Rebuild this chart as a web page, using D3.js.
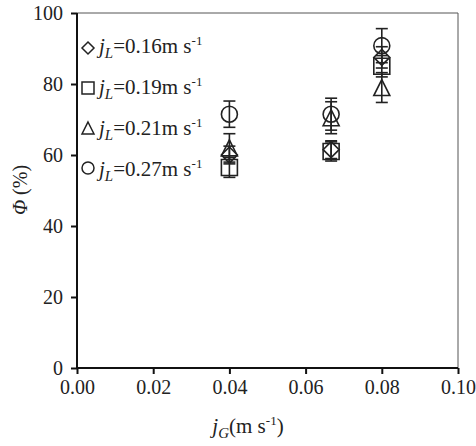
<!DOCTYPE html>
<html>
<head>
<meta charset="utf-8">
<script src="https://cdn.jsdelivr.net/npm/d3@7"></script>
<style>
  body { margin: 0; background: #fff; }
  svg { font-family: "Liberation Serif", "Times New Roman", serif; }
</style>
</head>
<body>
<svg id="chart" width="476" height="446"></svg>
<script>
// superficial gas velocity (m/s)
const jG = [0.04, 0.0667, 0.08];

// liquid velocities for the legend
const jL = ['0.16', '0.19', '0.21', '0.27'];
const shapes = ['diamond', 'square', 'triangle', 'circle'];

// Phi (%) and error bar half widths per series
const phi016 = [60, 61.5, 87.5];
const err016 = [2.5, 2.5, 3];
const phi019 = [56.5, 61, 85];
const err019 = [2.8, 2.7, 3];
const phi021 = [62, 70.5, 79];
const err021 = [4, 4.5, 4.2];
const phi027 = [71.5, 71.5, 90.8];
const err027 = [3.7, 4.5, 4.8];

const xTicks = [0, 0.02, 0.04, 0.06, 0.08, 0.10];
const yTicks = [0, 20, 40, 60, 80, 100];

const series = [
  { name: jL[0], shape: shapes[0], y: phi016, e: err016 },
  { name: jL[1], shape: shapes[1], y: phi019, e: err019 },
  { name: jL[2], shape: shapes[2], y: phi021, e: err021 },
  { name: jL[3], shape: shapes[3], y: phi027, e: err027 }
];

const svg = d3.select('#chart');
const mLeft = 77, mRight = 458, mTop = 13, mBottom = 368;

const x = d3.scaleLinear().domain([0, 0.1]).range([mLeft, mRight]);
const y = d3.scaleLinear().domain([0, 100]).range([mBottom, mTop]);

// marker outlines, s = half size
function markerPath(shape, s) {
  if (shape === 'diamond') return `M0,${-s}L${s},0L0,${s}L${-s},0Z`;
  if (shape === 'square') return `M${-s},${-s}H${s}V${s}H${-s}Z`;
  return `M0,${-s}L${s},${s}H${-s}Z`; // triangle
}

function drawMarker(g, shape, s) {
  if (shape === 'circle') {
    g.append('circle').attr('r', s);
  } else {
    g.append('path').attr('d', markerPath(shape, s));
  }
}

// frame (top / right thin)
svg.append('line').attr('x1', mLeft).attr('x2', mRight).attr('y1', mTop).attr('y2', mTop)
  .attr('stroke', '#555').attr('stroke-width', 1);
svg.append('line').attr('x1', mRight).attr('x2', mRight).attr('y1', mTop).attr('y2', mBottom)
  .attr('stroke', '#555').attr('stroke-width', 1);

// axes
const xAxis = d3.axisBottom(x).tickValues(xTicks).tickFormat(d3.format('.2f')).tickSize(6).tickPadding(6);
const yAxis = d3.axisLeft(y).tickValues(yTicks).tickSize(6).tickPadding(8);

const gx = svg.append('g').attr('transform', `translate(0,${mBottom})`).call(xAxis);
const gy = svg.append('g').attr('transform', `translate(${mLeft},0)`).call(yAxis);

[gx, gy].forEach(g => {
  g.select('.domain').attr('stroke', '#111').attr('stroke-width', 2);
  g.selectAll('.tick line').attr('stroke', '#111').attr('stroke-width', 2);
  g.selectAll('.tick text').attr('fill', '#222').style('font-size', '20px')
    .style('font-family', '"Liberation Serif", serif');
});
gx.select('.domain').attr('d', `M${mLeft},0H${mRight}`);
gy.select('.domain').attr('d', `M0,${mBottom}V${mTop}`);

// data points with error bars
const pts = svg.append('g').attr('fill', 'none').attr('stroke', '#222').attr('stroke-width', 1.6);
series.forEach(sr => {
  jG.forEach((xv, i) => {
    const cx = x(xv), v = sr.y[i], e = sr.e[i];
    const eb = pts.append('g');
    eb.append('line').attr('x1', cx).attr('x2', cx).attr('y1', y(v + e)).attr('y2', y(v - e));
    [v + e, v - e].forEach(t => {
      eb.append('line').attr('x1', cx - 6).attr('x2', cx + 6).attr('y1', y(t)).attr('y2', y(t));
    });
    const m = pts.append('g').attr('transform', `translate(${cx},${y(v)})`);
    drawMarker(m, sr.shape, 8);
  });
});

// legend
const leg = svg.append('g');
series.forEach((sr, i) => {
  const m = leg.append('g').attr('transform', `translate(88,${48 + i * 40})`)
    .attr('fill', 'none').attr('stroke', '#222').attr('stroke-width', 1.5);
  drawMarker(m, sr.shape, 6);
  const t = leg.append('text').attr('x', 99).attr('y', 53 + i * 41)
    .attr('fill', '#222').style('font-size', '21px');
  t.append('tspan').style('font-style', 'italic').text('j');
  t.append('tspan').style('font-style', 'italic').style('font-size', '15px').attr('dy', 5).text('L');
  t.append('tspan').attr('dy', -5).text(`=${sr.name}m s`);
  t.append('tspan').style('font-size', '13px').attr('dy', -8).text('-1');
});

// axis titles
const xt = svg.append('text').attr('x', 248).attr('y', 433).attr('text-anchor', 'middle')
  .attr('fill', '#222').style('font-size', '21px');
xt.append('tspan').style('font-style', 'italic').text('j');
xt.append('tspan').style('font-style', 'italic').style('font-size', '15px').attr('dy', 5).text('G');
xt.append('tspan').attr('dy', -5).text('(m s');
xt.append('tspan').style('font-size', '13px').attr('dy', -8).text('-1');
xt.append('tspan').attr('dy', 8).text(')');

const yt = svg.append('text').attr('transform', 'translate(27,190) rotate(-90)')
  .attr('text-anchor', 'middle').attr('fill', '#222').style('font-size', '20px');
yt.append('tspan').style('font-style', 'italic').text('Φ');
yt.append('tspan').text(' (%)');
</script>
</body>
</html>
